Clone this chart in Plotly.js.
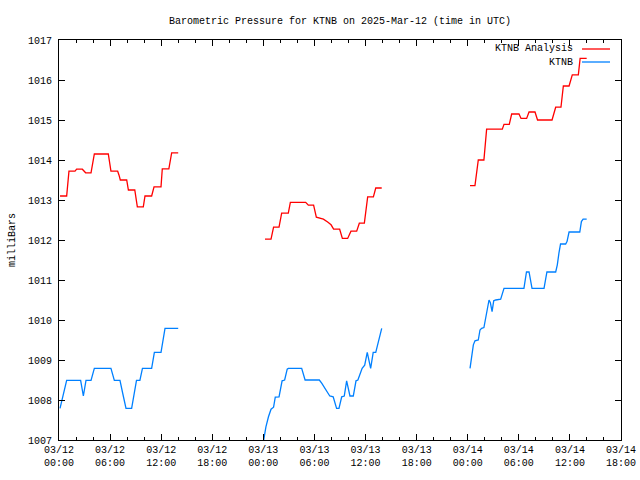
<!DOCTYPE html>
<html>
<head>
<meta charset="utf-8">
<script src="https://cdn.plot.ly/plotly-3.0.1.min.js"></script>
<style>html,body{margin:0;padding:0;background:#fff}#chart{width:640px;height:480px}</style>
</head>
<body>
<div id="chart"></div>
<script>
// Hours since 2025-03-12 00:00 UTC; null marks a data gap
var analysisHours = [0.12,0.90,1.17,1.88,2.07,2.74,3.13,3.76,4.15,5.79,6.10,6.89,7.05,7.20,7.95,8.15,8.90,9.20,9.90,10.10,10.88,11.16,11.98,12.13,12.90,13.23,14.00,
  19.0,
  24.19,24.90,25.20,25.84,26.15,26.93,27.17,28.97,29.28,29.90,30.22,30.69,31.05,31.55,31.95,32.25,32.96,33.28,33.90,34.29,34.96,35.27,35.86,36.25,36.92,37.20,37.90,
  43.0,
  48.27,48.85,49.24,49.90,50.22,52.06,52.26,52.88,53.16,54.02,54.26,54.92,55.20,55.90,56.20,57.90,58.33,58.95,59.23,59.90,60.28,60.99,61.20,61.97];
var analysisMb = [1013.10,1013.10,1013.72,1013.72,1013.77,1013.77,1013.68,1013.68,1014.15,1014.15,1013.72,1013.72,1013.62,1013.50,1013.50,1013.25,1013.25,1012.83,1012.83,1013.10,1013.10,1013.33,1013.33,1013.78,1013.78,1014.18,1014.18,
  null,
  1012.02,1012.02,1012.32,1012.32,1012.67,1012.67,1012.94,1012.94,1012.87,1012.87,1012.57,1012.55,1012.52,1012.45,1012.38,1012.27,1012.27,1012.04,1012.04,1012.22,1012.22,1012.42,1012.42,1013.08,1013.08,1013.30,1013.30,
  null,
  1013.36,1013.36,1014.00,1014.00,1014.77,1014.77,1014.89,1014.89,1015.15,1015.15,1015.04,1015.04,1015.20,1015.20,1015.00,1015.00,1015.32,1015.32,1015.85,1015.85,1016.13,1016.13,1016.54,1016.54];

var obsHours = [0.12,0.30,0.50,0.70,0.90,2.54,2.86,3.17,3.76,4.15,6.10,6.50,7.16,7.50,7.87,8.53,8.80,9.10,9.50,9.80,10.88,11.20,11.98,12.20,12.45,14.00,
  19.0,
  24.00,24.30,24.60,24.90,25.20,25.40,25.84,26.07,26.20,26.50,26.80,26.93,28.50,28.90,30.57,30.85,31.25,31.63,31.80,32.20,32.60,32.88,33.20,33.50,33.78,34.17,34.56,34.88,35.10,35.60,35.90,36.20,36.60,36.90,37.20,37.90,
  43.0,
  48.27,48.46,48.66,48.85,49.24,49.44,49.63,49.90,50.14,50.40,50.50,50.66,50.86,51.05,51.29,51.87,52.06,52.26,54.60,54.80,54.90,55.20,55.35,55.55,56.96,57.15,57.30,58.33,58.52,58.71,58.90,59.50,59.66,59.90,61.16,61.35,61.55,61.97];
var obsMb = [1007.79,1007.95,1008.15,1008.35,1008.49,1008.49,1008.10,1008.49,1008.49,1008.79,1008.79,1008.49,1008.49,1008.15,1007.79,1007.79,1008.15,1008.49,1008.49,1008.79,1008.79,1009.19,1009.19,1009.50,1009.79,1009.79,
  null,
  1006.95,1007.33,1007.58,1007.77,1007.82,1008.07,1008.08,1008.40,1008.48,1008.50,1008.77,1008.79,1008.79,1008.50,1008.50,1008.42,1008.29,1008.15,1008.10,1008.08,1007.79,1007.79,1008.08,1008.10,1008.48,1008.10,1008.10,1008.48,1008.50,1008.79,1008.87,1009.19,1008.79,1009.19,1009.19,1009.79,
  null,
  1008.79,1009.08,1009.38,1009.48,1009.50,1009.75,1009.79,1009.81,1010.08,1010.38,1010.50,1010.43,1010.21,1010.48,1010.50,1010.52,1010.67,1010.79,1010.79,1011.08,1011.20,1011.20,1011.00,1010.79,1010.79,1011.08,1011.20,1011.20,1011.38,1011.67,1011.90,1011.90,1011.96,1012.20,1012.20,1012.46,1012.52,1012.52];

var seriesNames = ["KTNB Analysis", "KTNB"];
var seriesColors = ["#ff0000", "#0080ff"];
var titleText = "Barometric Pressure for KTNB on 2025-Mar-12 (time in UTC)";
var yTitle = "milliBars";

var base = Date.UTC(2025, 2, 12);
function toDate(h) {
  return new Date(base + h * 3600000).toISOString().replace('T', ' ').replace('Z', '');
}

var FONT = "Liberation Mono";
var traces = [
  {x: analysisHours.map(toDate), y: analysisMb, name: seriesNames[0], mode: 'lines',
   line: {color: seriesColors[0], width: 1.3}, connectgaps: false, showlegend: false},
  {x: obsHours.map(toDate), y: obsMb, name: seriesNames[1], mode: 'lines',
   line: {color: seriesColors[1], width: 1.3}, connectgaps: false, showlegend: false}
];

var layout = {
  width: 640, height: 480,
  margin: {l: 59, r: 19, t: 40, b: 40},
  paper_bgcolor: '#fff', plot_bgcolor: '#fff',
  font: {family: FONT, size: 10, color: '#000'},
  title: {text: titleText, x: 0.5, xref: 'paper', y: 1 - 20/480, yref: 'container', yanchor: 'middle',
          font: {family: FONT, size: 10, color: '#000'}},
  showlegend: false,
  xaxis: {
    type: 'date', range: [toDate(0), toDate(66)],
    tick0: toDate(0), dtick: 6 * 3600000, tickformat: '%m/%d<br>%H:%M',
    ticks: 'inside', ticklen: 6, tickcolor: '#000', tickwidth: 1,
    minor: {dtick: 2 * 3600000, ticks: 'inside', ticklen: 3, tickcolor: '#000', showgrid: false},
    showline: true, linecolor: '#000', linewidth: 1, mirror: 'ticks',
    showgrid: false, zeroline: false, fixedrange: true,
    tickfont: {family: FONT, size: 10, color: '#000'}
  },
  yaxis: {
    range: [1007, 1017], dtick: 1, tick0: 1007,
    ticks: 'inside', ticklen: 6, tickcolor: '#000', tickwidth: 1,
    showline: true, linecolor: '#000', linewidth: 1, mirror: 'ticks',
    showgrid: false, zeroline: false, fixedrange: true,
    ticklabelstandoff: 4,
    tickfont: {family: FONT, size: 10, color: '#000'},
    title: {text: yTitle, font: {family: FONT, size: 10, color: '#000'}, standoff: 10}
  },
  annotations: [
    {text: seriesNames[0], xref: 'paper', yref: 'paper', x: (575-59)/562, y: (440-49)/400,
     xanchor: 'right', yanchor: 'middle', showarrow: false, font: {family: FONT, size: 10, color: '#000'}},
    {text: seriesNames[1], xref: 'paper', yref: 'paper', x: (575-59)/562, y: (440-62)/400,
     xanchor: 'right', yanchor: 'middle', showarrow: false, font: {family: FONT, size: 10, color: '#000'}}
  ],
  shapes: [
    {type: 'line', xref: 'paper', yref: 'paper', x0: (582-59)/562, x1: (610-59)/562, y0: (440-49)/400, y1: (440-49)/400,
     line: {color: seriesColors[0], width: 1.3}},
    {type: 'line', xref: 'paper', yref: 'paper', x0: (582-59)/562, x1: (610-59)/562, y0: (440-62)/400, y1: (440-62)/400,
     line: {color: seriesColors[1], width: 1.3}}
  ]
};

Plotly.newPlot('chart', traces, layout, {staticPlot: true, displayModeBar: false});
</script>
</body>
</html>
